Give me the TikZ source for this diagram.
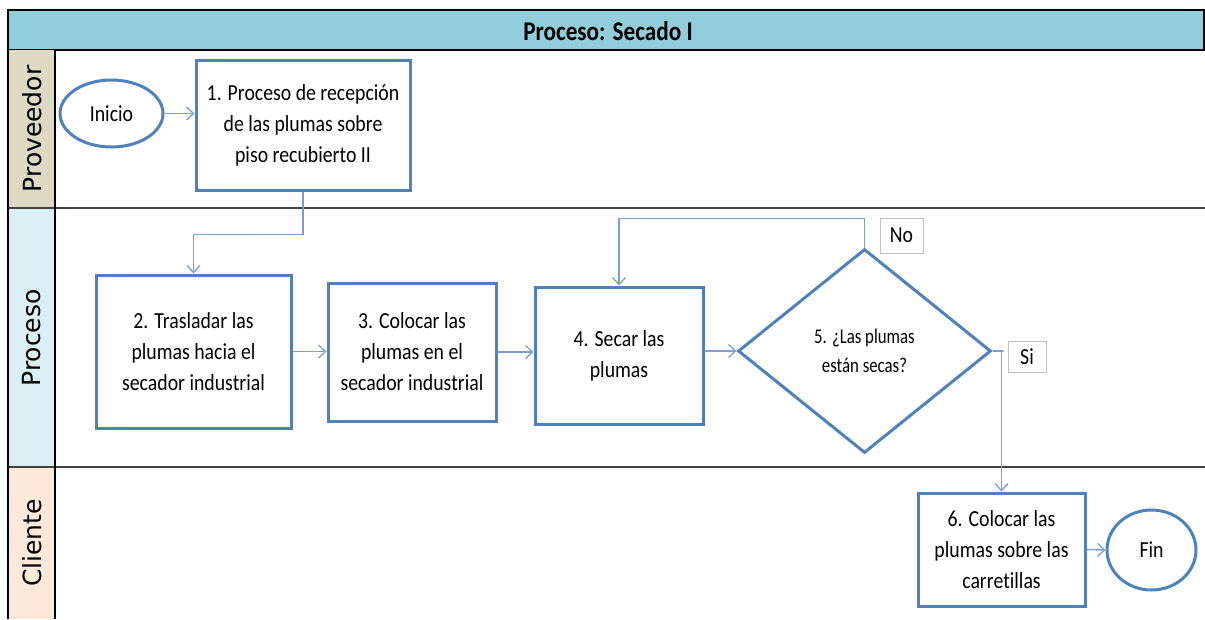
\documentclass[tikz,border=0pt]{standalone}
\usepackage{fontspec}
\setmainfont{Carlito}[Ligatures=NoCommon,FakeStretch=0.86]
\newfontfamily\condfont{Carlito}[Ligatures=NoCommon,FakeStretch=0.80]
\newfontfamily\lanefont{DejaVu Sans}
\usetikzlibrary{shapes.geometric,arrows.meta}
\definecolor{boxblue}{HTML}{4F81BD}
\definecolor{linkblue}{HTML}{7B9FD4}
\definecolor{titlefill}{HTML}{92CDDC}
\definecolor{provfill}{HTML}{DDD9C3}
\definecolor{procfill}{HTML}{DAEEF3}
\definecolor{clifill}{HTML}{FDE9D9}
\definecolor{laneline}{HTML}{404040}
\tikzset{
  stepbox/.style={draw=boxblue, line width=3pt, fill=white, rectangle, inner sep=0pt, align=center,
     font=\fontsize{23}{31}\selectfont},
  oval/.style={draw=boxblue, line width=3pt, fill=white, ellipse, inner sep=0pt,
     font=\fontsize{23}{31}\selectfont},
  decision/.style={draw=boxblue, line width=3pt, fill=white, diamond, inner sep=0pt, align=center,
     font=\condfont\fontsize{21}{29}\selectfont},
  tag/.style={draw=black!25, line width=1pt, fill=white, rectangle, inner sep=0pt,
     font=\fontsize{23}{26}\selectfont},
  link/.style={draw=linkblue, line width=1.5pt, -{Straight Barb[length=7pt,width=13pt,line width=1.3pt]}},
  lanetxt/.style={rotate=90, font=\lanefont\fontsize{25}{30}\selectfont},
}
\begin{document}
\begin{tikzpicture}[x=1pt,y=-1pt]
\useasboundingbox (0,0) rectangle (1205,619);
% title bar
\draw[fill=titlefill, line width=1.5pt, draw=black] (8,10) rectangle (1204,50);
\node[font=\bfseries\fontsize{27}{30}\selectfont] (title) at (608,31) {Proceso: Secado I};
% lane headers
\fill[provfill] (8,50) rectangle (55,208);
\fill[procfill] (8,208) rectangle (55,467);
\fill[clifill] (8,467) rectangle (55,619);
\draw[laneline, line width=2pt] (8,208) -- (1205,208);
\draw[laneline, line width=2pt] (8,467) -- (1205,467);
\draw[black, line width=1.5pt] (55,50) -- (55,619);
\draw[black, line width=1.5pt] (8,50) -- (8,619);
\node[lanetxt] (lprov) at (32,129) {Proveedor};
\node[lanetxt] (lproc) at (32,338) {Proceso};
\node[lanetxt] (lcli) at (32,543) {Cliente};
% nodes
\node[oval, minimum width=103pt, minimum height=67pt] (ini) at (111.5,113.5) {Inicio};
\node[stepbox, minimum width=214pt, minimum height=130pt] (b1) at (303,125)
  {1. Proceso de recepción\\de las plumas sobre\\piso recubierto II};
\node[stepbox, minimum width=195pt, minimum height=153pt] (b2) at (193.5,351.5)
  {2. Trasladar las\\plumas hacia el\\secador industrial};
\node[stepbox, minimum width=168pt, minimum height=138pt] (b3) at (412,352)
  {3. Colocar las\\plumas en el\\secador industrial};
\node[stepbox, minimum width=168pt, minimum height=137pt] (b4) at (619,355.5)
  {4. Secar las\\plumas};
\node[decision, minimum width=253pt, minimum height=204pt] (d) at (864.5,351)
  {5. ¿Las plumas\\están secas?};
\node[stepbox, minimum width=167pt, minimum height=113pt] (b6) at (1001.5,549.5)
  {6. Colocar las\\plumas sobre las\\carretillas};
\node[oval, minimum width=89pt, minimum height=80pt] (fin) at (1151.5,550) {Fin};
\node[tag, minimum width=43pt, minimum height=35pt] (no) at (901.5,235.5) {No};
\node[tag, minimum width=38pt, minimum height=31pt] (si) at (1027,356.5) {Si};
% connectors
\draw[link] (ini.east) -- (ini.east -| b1.west);
\draw[link] (b1.south) -- ++(0,43) -| (b2.north);
\draw[link] (b2.east) -- (b2.east -| b3.west);
\draw[link] (b3.east) -- (b3.east -| b4.west);
\draw[link] (d.west -| b4.east) -- (d.west);
\draw[link] (d.north) -- ++(0,-29) -| (b4.north);
\draw[link] (d.east) -- ++(11,0) -| (b6.north);
\draw[link] (b6.east) -- (fin.west);
\end{tikzpicture}
\end{document}
